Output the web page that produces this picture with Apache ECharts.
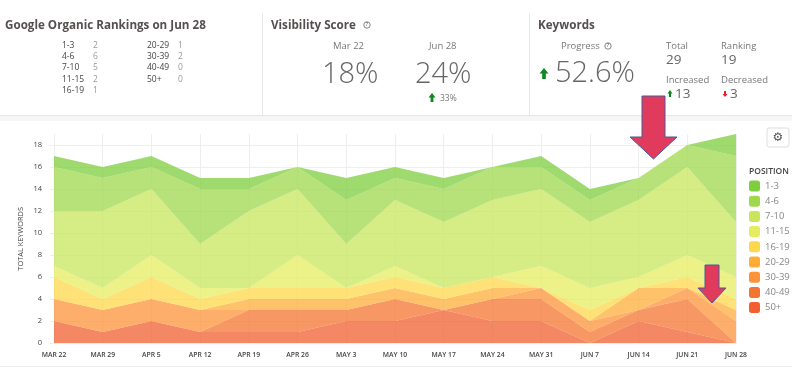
<!DOCTYPE html>
<html>
<head>
<meta charset="utf-8">
<style>
html,body{margin:0;padding:0;background:#fff;}
#main{width:800px;height:387px;}
</style>
<script src="https://cdn.jsdelivr.net/npm/echarts@6/dist/echarts.min.js"></script>
</head>
<body>
<div id="main"></div>
<script>
var dates = ['MAR 22','MAR 29','APR 5','APR 12','APR 19','APR 26','MAY 3','MAY 10','MAY 17','MAY 24','MAY 31','JUN 7','JUN 14','JUN 21','JUN 28'];
var pos1 = [1,1,1,1,1,0,2,1,1,0,1,1,0,0,2];
var pos4 = [4,3,2,5,2,2,4,2,3,3,2,2,2,2,6];
var pos7 = [5,7,6,4,7,6,4,6,6,7,7,6,7,8,5];
var pos11 = [1,1,2,1,0,3,0,1,0,0,2,2,1,2,2];
var pos16 = [2,1,2,1,1,1,1,1,1,1,0,1,0,1,1];
var pos20 = [0,0,0,0,1,1,1,1,1,1,0,0,2,0,1];
var pos30 = [2,2,2,2,0,0,0,0,0,0,1,1,0,1,2];
var pos40 = [0,0,0,0,2,2,1,2,0,2,2,1,1,3,0];
var pos50 = [2,1,2,1,1,1,2,2,3,2,2,0,2,1,0];
var yTicks = 2;

var names = ['50+','40-49','30-39','20-29','16-19','11-15','7-10','4-6','1-3'];
var values = [pos50,pos40,pos30,pos20,pos16,pos11,pos7,pos4,pos1];
var colors = ['#f26030','#f47430','#fb9338','#fdad38','#fed74a','#e6ec60','#c8e55c','#9fd84c','#7fce3f'];

var series = names.map(function (n, i) {
    return {
        name: n,
        type: 'line',
        stack: 'total',
        data: values[i],
        showSymbol: false,
        silent: true,
        lineStyle: { width: 0 },
        itemStyle: { color: colors[i] },
        areaStyle: { color: colors[i], opacity: 0.75 }
    };
});

var sans = '"Open Sans", sans-serif';
function txt(x, y, s, size, color, weight, align) {
    return { type: 'text', left: x, top: y, style: {
        text: s, fill: color, font: (weight || 400) + ' ' + size + 'px ' + sans, textAlign: align || 'left'
    } };
}
function line(x1, y1, x2, y2, c) {
    return { type: 'line', shape: { x1: x1, y1: y1, x2: x2, y2: y2 }, style: { stroke: c, lineWidth: 1 } };
}
// small up/down arrow, x/y is the tip
function arrow(x, y, w, h, c, down) {
    var d = down ? -1 : 1;
    var hw = w / 2, sw = w / 5, head = h * 0.5;
    return { type: 'polygon', shape: { points: [
        [x, y], [x + hw, y + d * head], [x + sw, y + d * head], [x + sw, y + d * h],
        [x - sw, y + d * h], [x - sw, y + d * head], [x - hw, y + d * head]
    ] }, style: { fill: c } };
}
function help(x, y) {
    return [
        { type: 'circle', shape: { cx: x, cy: y, r: 3.2 }, style: { fill: 'none', stroke: '#666', lineWidth: 0.8 } },
        { type: 'text', x: x, y: y, style: { text: '?', fill: '#666', font: '600 5px ' + sans, textAlign: 'center', textVerticalAlign: 'middle' } }
    ];
}
// red callout arrows on top of the chart
function callout(cx, top, sw, shaftBottom, hw, tip) {
    return { type: 'polygon', z: 50, shape: { points: [
        [cx - sw, top], [cx + sw, top], [cx + sw, shaftBottom], [cx + hw, shaftBottom],
        [cx, tip], [cx - hw, shaftBottom], [cx - sw, shaftBottom]
    ] }, style: { fill: '#e03a5c', stroke: '#4b5a9b', lineWidth: 1 } };
}

var rows1 = [['1-3','2'],['4-6','6'],['7-10','5'],['11-15','2'],['16-19','1']];
var rows2 = [['20-29','1'],['30-39','2'],['40-49','0'],['50+','0']];
var graphic = [
    { type: 'rect', shape: { x: 0, y: 116, width: 792, height: 5 }, style: { fill: '#f6f6f6' } },
    line(0, 115.5, 792, 115.5, '#e6e6e6'),
    line(0, 366.5, 792, 366.5, '#eeeeee'),
    line(262.5, 13, 262.5, 115, '#e8e8e8'),
    line(529.5, 13, 529.5, 115, '#e8e8e8'),
    txt(5, 20, 'Google Organic Rankings on Jun 28', 11.65, '#55504f', 700),
    txt(271, 20, 'Visibility Score', 11.65, '#55504f', 700),
    txt(538, 20, 'Keywords', 11.65, '#55504f', 700),
    txt(333, 41, 'Mar 22', 9.5, '#777'),
    txt(322, 60, '18%', 29, '#666', 300),
    txt(429, 41, 'Jun 28', 9.5, '#777'),
    txt(415, 60, '24%', 29, '#666', 300),
    arrow(432, 93, 7, 9, '#0b8a1f'),
    txt(440, 94, '33%', 8.5, '#777'),
    txt(561, 41, 'Progress', 9.5, '#777'),
    arrow(544, 68, 9, 11, '#0b8a1f'),
    txt(555, 59, '52.6%', 29, '#666', 300),
    txt(666, 41, 'Total', 9.5, '#777'),
    txt(666, 53, '29', 13.5, '#666'),
    txt(721, 41, 'Ranking', 9.5, '#777'),
    txt(721, 53, '19', 13.5, '#666'),
    txt(666, 75, 'Increased', 9.5, '#777'),
    arrow(670, 90, 5, 7, '#0b8a1f'),
    txt(675, 87, '13', 13.5, '#666'),
    txt(721, 75, 'Decreased', 9.5, '#777'),
    arrow(725, 97, 5, 6, '#ee1c25', true),
    txt(730, 87, '3', 13.5, '#666'),
    { type: 'text', left: 17, top: 207, rotation: Math.PI / 2, style: { text: 'TOTAL KEYWORDS', fill: '#444', font: '7.4px ' + sans } },
    txt(749, 167, 'POSITION', 8.5, '#444', 600),
    { type: 'rect', shape: { x: 767, y: 128, width: 22, height: 19, r: 2 }, style: { fill: '#fff', stroke: '#ddd', lineWidth: 1 } },
    { type: 'text', x: 778, y: 137.5, style: { text: '\u2699', fill: '#555', font: '12px "DejaVu Sans"', textAlign: 'center', textVerticalAlign: 'middle' } },
    callout(653.5, 96, 11.5, 137, 23.5, 159),
    callout(712, 265, 7, 288, 14, 303)
].concat(help(367, 25), help(608, 46));
rows1.forEach(function (r, i) {
    graphic.push(txt(62, 41 + i * 11.2, r[0], 8.5, '#444'));
    graphic.push(txt(93, 41 + i * 11.2, r[1], 8.5, '#999'));
});
rows2.forEach(function (r, i) {
    graphic.push(txt(147, 41 + i * 11.2, r[0], 8.5, '#444'));
    graphic.push(txt(178, 41 + i * 11.2, r[1], 8.5, '#999'));
});

var chart = echarts.init(document.getElementById('main'));
chart.setOption({
    animation: false,
    textStyle: { fontFamily: sans },
    grid: { left: 54, right: 64, top: 134, height: 209, containLabel: false },
    legend: {
        data: names.slice().reverse(),
        orient: 'vertical',
        left: 749,
        top: 180.5,
        padding: 0,
        itemWidth: 11,
        itemHeight: 11,
        itemGap: 4.2,
        icon: 'roundRect',
        selectedMode: false,
        textStyle: { color: '#888', fontSize: 9.5 }
    },
    xAxis: {
        type: 'category',
        boundaryGap: false,
        data: dates,
        axisLine: { lineStyle: { color: '#eeeeee' } },
        axisTick: { show: false },
        axisLabel: { color: '#444', fontSize: 6.8, fontWeight: 600, margin: 9, interval: 0 },
        splitLine: { show: true, lineStyle: { color: '#eeeeee' } }
    },
    yAxis: {
        type: 'value',
        min: 0,
        max: 19,
        interval: yTicks,
        axisLine: { show: false },
        axisTick: { show: true, length: 4, lineStyle: { color: '#eeeeee' } },
        axisLabel: { color: '#444', fontSize: 7.5, margin: 12, showMaxLabel: false },
        splitLine: { show: true, showMaxLine: false, lineStyle: { color: '#eeeeee' } }
    },
    graphic: graphic,
    series: series
});
</script>
</body>
</html>
